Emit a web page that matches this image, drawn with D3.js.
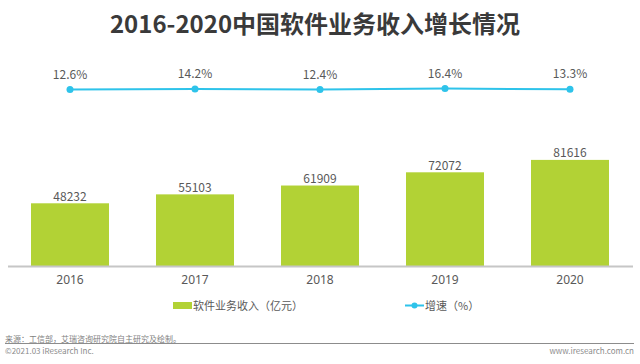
<!DOCTYPE html>
<html>
<head>
<meta charset="utf-8">
<script src="https://cdn.jsdelivr.net/npm/d3@7"></script>
<style>
  html, body { margin: 0; padding: 0; background: #fff; }
  svg { display: block; font-family: "Noto Sans CJK SC", "Noto Sans", sans-serif; }
</style>
</head>
<body>
<svg id="chart" width="640" height="364"></svg>
<script>
const years = ["2016", "2017", "2018", "2019", "2020"];
const revenue = [48232, 55103, 61909, 72072, 81616];
const growth = [12.6, 14.2, 12.4, 16.4, 13.3];
const growthLabels = ["12.6%", "14.2%", "12.4%", "16.4%", "13.3%"];

const svg = d3.select("#chart");
const barColor = "#b2d235";
const lineColor = "#2ec3ea";
const textColor = "#595959";

// title
svg.append("text")
  .attr("x", 315)
  .attr("y", 33)
  .attr("text-anchor", "middle")
  .attr("font-size", 24)
  .attr("font-weight", 700)
  .attr("fill", "#3a3a3a")
  .text("2016-2020中国软件业务收入增长情况");

const x = d3.scaleBand().domain(years).range([7.5, 632.5]).paddingInner(0.376).paddingOuter(0.188);
const y = d3.scaleLinear().domain([0, 100000]).range([266, 136]);
const yRate = d3.scaleLinear().domain([0, 20]).range([92.8, 87.6]);

// bars
const bars = svg.append("g");
bars.selectAll("rect")
  .data(revenue)
  .enter()
  .append("rect")
  .attr("x", (d, i) => x(years[i]))
  .attr("y", (d) => y(d))
  .attr("width", x.bandwidth())
  .attr("height", (d) => y(0) - y(d))
  .attr("fill", barColor);

bars.selectAll("text")
  .data(revenue)
  .enter()
  .append("text")
  .attr("x", (d, i) => x(years[i]) + x.bandwidth() / 2)
  .attr("y", (d) => y(d) - 2.5)
  .attr("text-anchor", "middle")
  .attr("font-size", 12)
  .attr("fill", textColor)
  .text((d) => d);

// x axis
const axis = svg.append("g")
  .attr("transform", "translate(0,266)")
  .call(d3.axisBottom(x).tickSize(0).tickSizeOuter(0).tickPadding(9.5));
axis.select(".domain").attr("stroke", "#c6c6c6").attr("stroke-width", 1.8);
axis.selectAll("text")
  .attr("font-size", 12)
  .attr("font-family", "'Noto Sans', sans-serif")
  .attr("fill", textColor);

// growth line
const cx = (i) => x(years[i]) + x.bandwidth() / 2;
const line = d3.line().x((d, i) => cx(i)).y((d) => yRate(d));
svg.append("path")
  .datum(growth)
  .attr("d", line)
  .attr("fill", "none")
  .attr("stroke", lineColor)
  .attr("stroke-width", 2);

svg.append("g").selectAll("circle")
  .data(growth)
  .enter()
  .append("circle")
  .attr("cx", (d, i) => cx(i))
  .attr("cy", (d) => yRate(d))
  .attr("r", 3.5)
  .attr("fill", lineColor);

svg.append("g").selectAll("text")
  .data(growth)
  .enter()
  .append("text")
  .attr("x", (d, i) => cx(i))
  .attr("y", (d) => yRate(d) - 11)
  .attr("text-anchor", "middle")
  .attr("font-size", 12)
  .attr("fill", textColor)
  .text((d, i) => growthLabels[i]);

// legend
const legend = svg.append("g").attr("font-size", 11).attr("fill", textColor);
legend.append("rect").attr("x", 173).attr("y", 302).attr("width", 19).attr("height", 7).attr("fill", barColor);
legend.append("text").attr("x", 193).attr("y", 309.5).text("软件业务收入（亿元）");
legend.append("line").attr("x1", 405).attr("x2", 424).attr("y1", 305.5).attr("y2", 305.5)
  .attr("stroke", lineColor).attr("stroke-width", 2);
legend.append("circle").attr("cx", 414.5).attr("cy", 305.5).attr("r", 3).attr("fill", lineColor);
legend.append("text").attr("x", 425).attr("y", 309.5).text("增速（%）");

// footer
svg.append("text").attr("x", 5).attr("y", 341.5).attr("font-size", 8).attr("fill", "#7f7f7f")
  .text("来源：工信部，艾瑞咨询研究院自主研究及绘制。");
svg.append("line").attr("x1", 5).attr("x2", 634).attr("y1", 343.5).attr("y2", 343.5)
  .attr("stroke", "#8c8c8c").attr("stroke-width", 1);
svg.append("text").attr("x", 5).attr("y", 354).attr("font-size", 8).attr("fill", "#8c8c8c")
  .text("©2021.03 iResearch Inc.");
svg.append("text").attr("x", 634).attr("y", 354).attr("font-size", 8).attr("text-anchor", "end").attr("fill", "#8c8c8c")
  .text("www.iresearch.com.cn");
</script>
</body>
</html>
